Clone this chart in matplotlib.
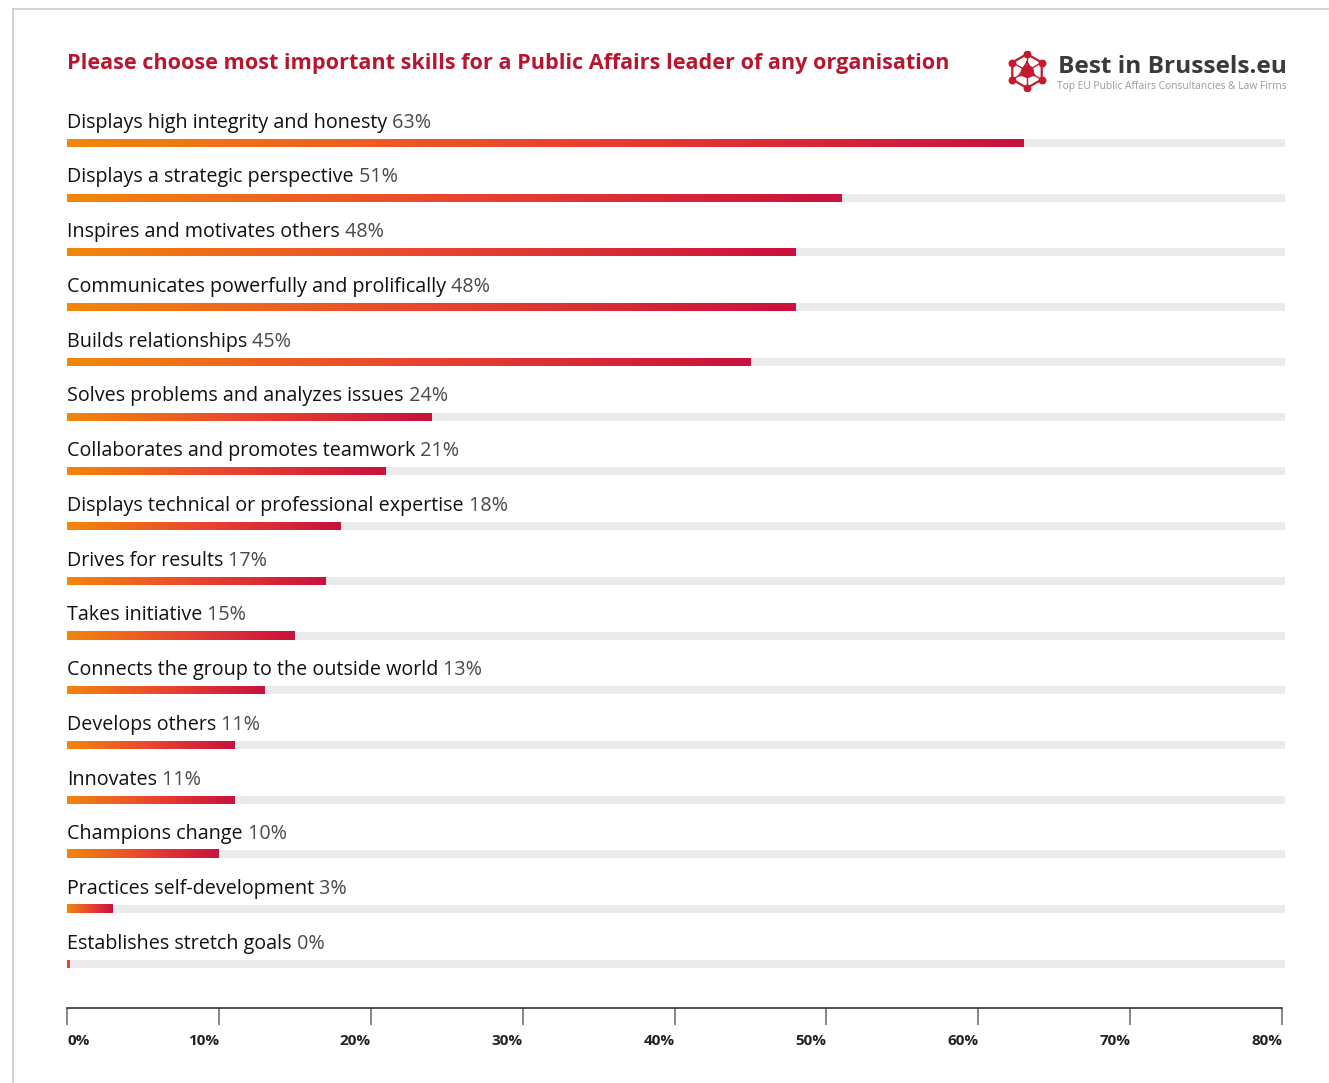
import matplotlib.pyplot as plt
import numpy as np
from matplotlib.colors import LinearSegmentedColormap
from matplotlib.lines import Line2D

skills = [
    "Displays high integrity and honesty",
    "Displays a strategic perspective",
    "Inspires and motivates others",
    "Communicates powerfully and prolifically",
    "Builds relationships",
    "Solves problems and analyzes issues",
    "Collaborates and promotes teamwork",
    "Displays technical or professional expertise",
    "Drives for results",
    "Takes initiative",
    "Connects the group to the outside world",
    "Develops others",
    "Innovates",
    "Champions change",
    "Practices self-development",
    "Establishes stretch goals",
]
shares = [63, 51, 48, 48, 45, 24, 21, 18, 17, 15, 13, 11, 11, 10, 3, 0]
ticks = [0, 10, 20, 30, 40, 50, 60, 70, 80]
tick_labels = ["0%", "10%", "20%", "30%", "40%", "50%", "60%", "70%", "80%"]

W, H = 1329, 1083
plt.rcParams['font.family'] = ['Open Sans', 'DejaVu Sans']

fig = plt.figure(figsize=(W / 100, H / 100), dpi=100)

# page frame (top and left edge)
fig.add_artist(Line2D([13 / W, 1], [1 - 9 / H, 1 - 9 / H], color="#cccccc", lw=1.2))
fig.add_artist(Line2D([13 / W, 13 / W], [0, 1 - 9 / H], color="#cccccc", lw=1.2))

# main axes: 0% at x=67px, 80% at x=1282px, axis line at y=1008px
x0, x1 = 67, 1282
y_top, y_bot = 100, 1008
ax = fig.add_axes([x0 / W, 1 - y_bot / H, (x1 - x0) / W, (y_bot - y_top) / H])
row = 54.73
first = 143

grad = LinearSegmentedColormap.from_list("g", ["#f2870c", "#e9452f", "#c8113e"])
bar_h = 8 / row
track_end = 80 * (1285 - x0) / (x1 - x0)
gimg = np.linspace(0, 1, 256).reshape(1, -1)

for i, (name, v) in enumerate(zip(skills, shares)):
    ax.barh(i, track_end, height=bar_h, color="#ebebeb", clip_on=False, zorder=1)
    if v > 0:
        ax.imshow(gimg, cmap=grad, aspect="auto", zorder=2,
                  extent=(0, v, i + bar_h / 2, i - bar_h / 2), interpolation="bilinear")
    else:
        ax.barh(i, 0.18, height=bar_h, color="#e9452f", zorder=2)
    t = ax.text(0, i - 0.37, name, fontsize=14.2, color="#111111", va="center", ha="left")
    ax.annotate(f" {v}%", xy=(1, 0), xycoords=t, va="bottom", ha="left",
                fontsize=14.2, color="#4a4a4a")

ax.set_xlim(0, 80)
ax.set_ylim((y_bot - first) / row, -(first - y_top) / row)
for s in ["top", "left", "right"]:
    ax.spines[s].set_visible(False)
ax.spines["bottom"].set_color("#333333")
ax.spines["bottom"].set_linewidth(1.2)
ax.set_yticks([])
ax.set_xticks(ticks)
ax.set_xticklabels([])
ax.tick_params(axis="x", direction="out", length=12, width=1.1, color="#666666")
lab_y = -(1041 - y_bot) / (y_bot - y_top)
for tv, tl in zip(ticks, tick_labels):
    ax.text(tv, lab_y, tl, transform=ax.get_xaxis_transform(), fontsize=11,
            fontweight="bold", color="#222222", va="center",
            ha="left" if tv == 0 else "right")

# title
fig.text(67 / W, 1 - 64 / H, "Please choose most important skills for a Public Affairs leader of any organisation",
         fontsize=15.6, fontweight="bold", color="#b8162f", va="center", ha="left")

# logo text
fig.text(1287 / W, 1 - 67 / H, "Best in Brussels.eu", fontsize=17.6, fontweight="bold",
         color="#3a3a3a", va="center", ha="right")
fig.text(1287 / W, 1 - 86 / H, "Top EU Public Affairs Consultancies & Law Firms", fontsize=7.4,
         color="#9a9a9a", va="center", ha="right")

# logo icon
lax = fig.add_axes([(1027 - 20) / W, 1 - (71 + 20) / H, 40 / W, 40 / H])
lax.set_xlim(-1, 1)
lax.set_ylim(-1, 1)
lax.set_aspect("equal")
lax.axis("off")
red = "#c41a30"
ang = np.deg2rad(np.arange(90, 450, 60))
hx, hy = 0.85 * np.cos(ang), 0.85 * np.sin(ang)
lax.plot(np.append(hx, hx[0]), np.append(hy, hy[0]), color=red, lw=1.6)
tri = np.deg2rad([90, 210, 330])
tx, ty = 0.45 * np.cos(tri), 0.45 * np.sin(tri)
lax.plot(np.append(tx, tx[0]), np.append(ty, ty[0]), color=red, lw=1.2)
for a, b in zip(hx, hy):
    lax.plot([0, a], [0, b], color=red, lw=1.0)
lax.scatter(hx, hy, s=22, color=red, zorder=3)
lax.scatter([0], [0], s=70, color=red, zorder=3)

fig.savefig("out.png", dpi=100)
